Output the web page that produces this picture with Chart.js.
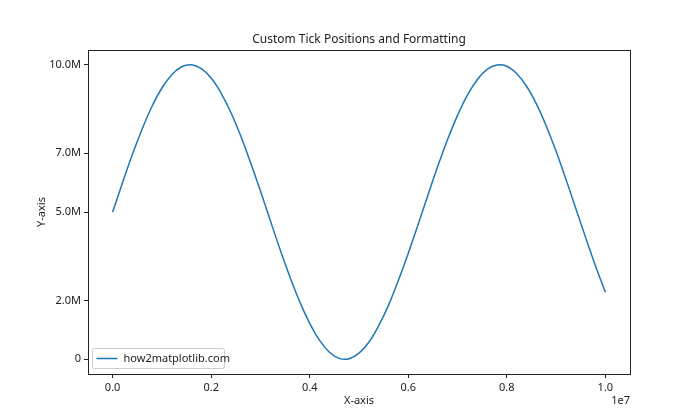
<!DOCTYPE html>
<html>
<head>
<meta charset="utf-8">
<script src="https://cdn.jsdelivr.net/npm/chart.js@4.4.1/dist/chart.umd.min.js"></script>
<style>
  html, body { margin: 0; padding: 0; background: #fff; }
  #wrap { width: 700px; height: 420px; }
</style>
</head>
<body>
<div id="wrap"><canvas id="c" width="700" height="420"></canvas></div>
<script>
// X positions (raw units) and Y values (raw units)
const xValuesM = [0, 0.2, 0.4, 0.6, 0.8, 1.0, 1.2, 1.4, 1.6, 1.8, 2.0, 2.2, 2.4, 2.6, 2.8, 3.0, 3.2, 3.4, 3.6, 3.8, 4.0, 4.2, 4.4, 4.6, 4.8, 5.0, 5.2, 5.4, 5.6, 5.8, 6.0, 6.2, 6.4, 6.6, 6.8, 7.0, 7.2, 7.4, 7.6, 7.8, 8.0, 8.2, 8.4, 8.6, 8.8, 9.0, 9.2, 9.4, 9.6, 9.8, 10.0];
const yValuesM = [5.00, 5.99, 6.95, 7.82, 8.59, 9.21, 9.66, 9.93, 10.00, 9.87, 9.55, 9.04, 8.38, 7.58, 6.67, 5.71, 4.71, 3.72, 2.79, 1.94, 1.22, 0.64, 0.24, 0.03, 0.02, 0.21, 0.58, 1.14, 1.84, 2.68, 3.60, 4.58, 5.58, 6.56, 7.47, 8.28, 8.97, 9.49, 9.84, 9.99, 9.95, 9.70, 9.27, 8.67, 7.92, 7.06, 6.11, 5.12, 4.13, 3.17, 2.28];
const yTickValues = [0, 2000000, 5000000, 7000000, 10000000];
const yTickLabels = ['0', '2.0M', '5.0M', '7.0M', '10.0M'];
const xTickValues = [0, 2000000, 4000000, 6000000, 8000000, 10000000];
const xTickLabels = ['0.0', '0.2', '0.4', '0.6', '0.8', '1.0'];
const seriesLabel = 'how2matplotlib.com';
const chartTitle = 'Custom Tick Positions and Formatting';
const xAxisTitle = 'X-axis';
const yAxisTitle = 'Y-axis';
const xOffsetText = '1e7';

const FONT = "'Noto Sans', 'Open Sans', sans-serif";
const TEXT = '#222';
const LINE = '#1f77b4';

const points = xValuesM.map((x, i) => ({ x: x * 1e6, y: yValuesM[i] * 1e6 }));

const framePlugin = {
  id: 'frame',
  afterDraw(chart) {
    const { ctx, chartArea: a } = chart;
    ctx.save();
    ctx.strokeStyle = TEXT;
    ctx.lineWidth = 1;
    ctx.strokeRect(Math.round(a.left) + 0.5, Math.round(a.top) + 0.5, Math.round(a.right - a.left), Math.round(a.bottom - a.top));
    // title centred over the plot area
    ctx.fillStyle = TEXT;
    ctx.font = '12px ' + FONT;
    ctx.textAlign = 'center';
    ctx.textBaseline = 'middle';
    ctx.fillText(chartTitle, (a.left + a.right) / 2, 40);
    // offset text
    ctx.font = '11px ' + FONT;
    ctx.textAlign = 'right';
    ctx.fillText(xOffsetText, a.right, 401);
    // legend
    const bx = a.left + 4.5, by = a.bottom - 25.5, bw = 132, bh = 20;
    ctx.fillStyle = 'rgba(255,255,255,0.8)';
    ctx.strokeStyle = '#cccccc';
    ctx.lineWidth = 1;
    ctx.beginPath();
    ctx.roundRect(bx, by, bw, bh, 2);
    ctx.fill();
    ctx.stroke();
    ctx.strokeStyle = LINE;
    ctx.lineWidth = 1.5;
    ctx.beginPath();
    ctx.moveTo(bx + 4, by + bh / 2);
    ctx.lineTo(bx + 25, by + bh / 2);
    ctx.stroke();
    ctx.fillStyle = TEXT;
    ctx.textAlign = 'left';
    ctx.font = '11px ' + FONT;
    ctx.fillText(seriesLabel, bx + 31, by + bh / 2);
    ctx.restore();
  }
};

new Chart(document.getElementById('c'), {
  type: 'line',
  data: {
    datasets: [{
      label: seriesLabel,
      data: points,
      borderColor: LINE,
      backgroundColor: LINE,
      borderWidth: 1.5,
      pointRadius: 0,
      tension: 0.4,
      fill: false
    }]
  },
  options: {
    responsive: false,
    animation: false,
    layout: { padding: { left: 0, right: 70, top: 50, bottom: 0 } },
    plugins: {
      legend: { display: false },
      tooltip: { enabled: false },
      title: { display: false }
    },
    scales: {
      x: {
        type: 'linear',
        min: -500000,
        max: 10500000,
        afterFit(scale) { scale.height = 46; },
        afterBuildTicks(scale) { scale.ticks = xTickValues.map(v => ({ value: v })); },
        grid: { display: true, drawOnChartArea: false, drawTicks: true, tickLength: 4, color: TEXT },
        border: { display: false },
        ticks: {
          color: TEXT,
          padding: 3,
          maxRotation: 0,
          font: { family: FONT, size: 11 },
          callback(v) { const i = xTickValues.indexOf(v); return i >= 0 ? xTickLabels[i] : ''; }
        },
        title: {
          display: true,
          text: xAxisTitle,
          color: TEXT,
          font: { family: FONT, size: 11 },
          padding: { top: 0, bottom: 12.5 }
        }
      },
      y: {
        type: 'linear',
        min: -500000,
        max: 10500000,
        afterFit(scale) { scale.width = 88; },
        afterBuildTicks(scale) { scale.ticks = yTickValues.map(v => ({ value: v })); },
        grid: { display: true, drawOnChartArea: false, drawTicks: true, tickLength: 4, color: TEXT },
        border: { display: false },
        ticks: {
          color: TEXT,
          padding: 3,
          font: { family: FONT, size: 11 },
          callback(v) { const i = yTickValues.indexOf(v); return i >= 0 ? yTickLabels[i] : ''; }
        },
        title: {
          display: true,
          text: yAxisTitle,
          color: TEXT,
          font: { family: FONT, size: 11 },
          padding: { top: 35.5, bottom: 0 }
        }
      }
    }
  },
  plugins: [framePlugin]
});
</script>
</body>
</html>
